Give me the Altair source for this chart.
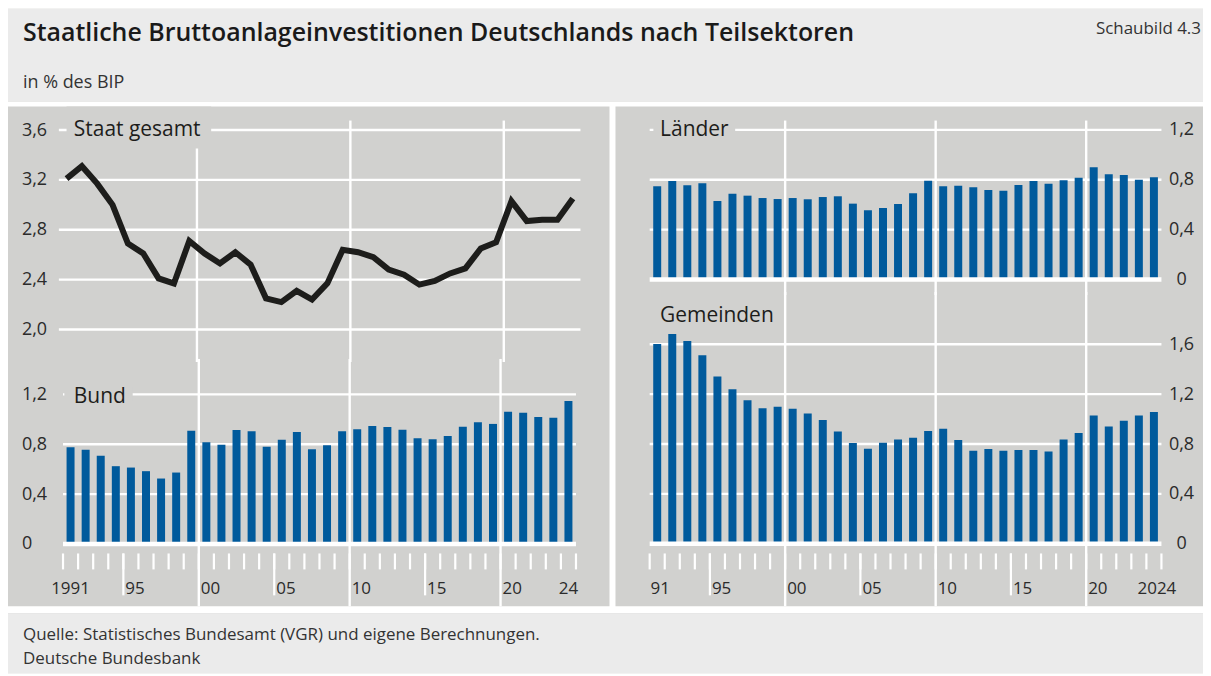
import altair as alt
import pandas as pd

# ---------------- data ----------------
years = list(range(1991, 2025))
staat = [3.21, 3.31, 3.17, 3.00, 2.69, 2.61, 2.41, 2.37, 2.71, 2.61,
         2.53, 2.62, 2.52, 2.25, 2.22, 2.31, 2.24, 2.37, 2.64, 2.62,
         2.58, 2.48, 2.44, 2.36, 2.39, 2.45, 2.49, 2.65, 2.70, 3.03,
         2.87, 2.88, 2.88, 3.05]
bund = [0.776, 0.755, 0.707, 0.624, 0.613, 0.584, 0.525, 0.573, 0.909, 0.816,
        0.795, 0.915, 0.904, 0.779, 0.837, 0.899, 0.760, 0.792, 0.904, 0.920,
        0.947, 0.939, 0.917, 0.848, 0.840, 0.867, 0.941, 0.976, 0.963, 1.061,
        1.053, 1.019, 1.013, 1.147]
laender = [0.747, 0.789, 0.755, 0.771, 0.629, 0.688, 0.672, 0.653, 0.645, 0.653,
           0.643, 0.661, 0.667, 0.608, 0.555, 0.573, 0.605, 0.691, 0.792, 0.747,
           0.752, 0.739, 0.717, 0.712, 0.757, 0.789, 0.768, 0.795, 0.816, 0.899,
           0.843, 0.837, 0.800, 0.819]
gemeinden = [1.603, 1.683, 1.627, 1.512, 1.341, 1.240, 1.152, 1.088, 1.099, 1.083,
             1.045, 0.992, 0.901, 0.808, 0.763, 0.811, 0.837, 0.851, 0.904, 0.923,
             0.832, 0.747, 0.760, 0.747, 0.752, 0.752, 0.741, 0.837, 0.888, 1.029,
             0.941, 0.987, 1.029, 1.056]

ticks_staat = [2.0, 2.4, 2.8, 3.2, 3.6]
ticks_bund = [0.0, 0.4, 0.8, 1.2]
ticks_laender = [0.0, 0.4, 0.8, 1.2]
ticks_gemeinden = [0.0, 0.4, 0.8, 1.2, 1.6]

decade_lines = [1999.5, 2009.5, 2019.5]
long_ticks = [1994.5, 2004.5, 2014.5]
boundaries = [y - 0.5 for y in years] + [years[-1] + 0.5]

end_labels_left = ["1991", "24"]
end_labels_right = ["91", "2024"]
end_label_years = [1991, 2024]
mid_labels = ["95", "00", "05", "10", "15", "20"]
mid_label_pos = [1994.5, 1999.5, 2004.5, 2009.5, 2014.5, 2019.5]

title_text = "Staatliche Bruttoanlageinvestitionen Deutschlands nach Teilsektoren"
number_text = "Schaubild 4.3"
unit_text = "in % des BIP"
source_text = "Quelle: Statistisches Bundesamt (VGR) und eigene Berechnungen."
org_text = "Deutsche Bundesbank"

df = pd.DataFrame({"year": years, "staat": staat, "bund": bund,
                   "laender": laender, "gemeinden": gemeinden})

# ---------------- style / layout ----------------
FONT = "Open Sans"
BLUE = "#005a9c"
PANEL = "#d1d1cf"
HEAD = "#ebebeb"
WHITE = "#ffffff"
INK = "#1d1d1b"
LABEL = "#2b2b2b"

X_START, X_END = years[0] - 0.5, years[-1] + 0.5
PPU = 125.0  # pixels per unit of % of GDP


def xdomain(v0, v1, px_first, ppy):
    return [X_START - (px_first - v0) / ppy, X_START + (v1 - px_first) / ppy]


def ydomain(v0, v1, px_ref, val_ref):
    return [val_ref - (v1 - px_ref) / PPU, val_ref + (px_ref - v0) / PPU]


LW, RW = 603, 589
xsL = alt.Scale(domain=xdomain(8, 611, 59.0, 15.38), nice=False, zero=False)
xsR = alt.Scale(domain=xdomain(617, 1206, 646.8, 15.35), nice=False, zero=False)

fmt = "datum.value == 0 ? '0' : replace(format(datum.value, '.1f'), '.', ',')"


def yaxis(vals, orient, offset, align):
    return alt.Axis(orient=orient, values=vals, labelExpr=fmt, offset=offset,
                    labelAlign=align, labelPadding=0, ticks=False, tickSize=0,
                    domain=False, grid=False, title=None, labelFont=FONT,
                    labelFontSize=18, labelColor=LABEL, labelFlush=False,
                    labelOverlap=False, minExtent=0, maxExtent=0)


def hgrid(vals, xs, ys, yax, sw=2.4):
    d = pd.DataFrame({"v": vals, "a": X_START, "b": X_END})
    return alt.Chart(d).mark_rule(color=WHITE, strokeWidth=sw).encode(
        x=alt.X("a:Q", scale=xs, axis=None), x2="b:Q",
        y=alt.Y("v:Q", scale=ys, axis=yax))


def vgrid(xs, top, bottom):
    d = pd.DataFrame({"g": decade_lines})
    return alt.Chart(d).mark_rule(color=WHITE, strokeWidth=2.4).encode(
        x=alt.X("g:Q", scale=xs, axis=None), y=alt.value(top), y2=alt.value(bottom))


def mask(x0, x1, y0, y1):
    d = pd.DataFrame({"m": [0]})
    return alt.Chart(d).mark_rect(color=PANEL).encode(
        x=alt.value(x0), x2=alt.value(x1), y=alt.value(y0), y2=alt.value(y1))


def label(text, x, y, size=21, align="left", color=INK, weight="normal"):
    d = pd.DataFrame({"t": [text]})
    return alt.Chart(d).mark_text(align=align, baseline="alphabetic", font=FONT,
                                  fontSize=size, color=color, fontWeight=weight).encode(
        text="t:N", x=alt.value(x), y=alt.value(y))


def bars(col, xs, ys, yax):
    return alt.Chart(df).mark_bar(color=BLUE, width=8).encode(
        x=alt.X("year:Q", scale=xs, axis=None),
        y=alt.Y(f"{col}:Q", scale=ys, axis=yax), y2=alt.datum(0))


def xticks(xs, t0, t1, t2):
    short = alt.Chart(pd.DataFrame({"b": boundaries})).mark_rule(
        color=WHITE, strokeWidth=2.2).encode(
        x=alt.X("b:Q", scale=xs, axis=None), y=alt.value(t0), y2=alt.value(t1))
    long = alt.Chart(pd.DataFrame({"b": long_ticks})).mark_rule(
        color=WHITE, strokeWidth=2.2).encode(
        x=alt.X("b:Q", scale=xs, axis=None), y=alt.value(t0), y2=alt.value(t2))
    return [short, long]


def xlabels(xs, end_labels, yb, end_dx=0):
    ends = alt.Chart(pd.DataFrame({"p": end_label_years, "l": end_labels})).mark_text(
        align="center", baseline="alphabetic", font=FONT, fontSize=17, color=LABEL,
        dx=end_dx).encode(x=alt.X("p:Q", scale=xs, axis=None), y=alt.value(yb), text="l:N")
    mids = alt.Chart(pd.DataFrame({"p": mid_label_pos, "l": mid_labels})).mark_text(
        align="left", baseline="alphabetic", font=FONT, fontSize=17, color=LABEL,
        dx=2).encode(x=alt.X("p:Q", scale=xs, axis=None), y=alt.value(yb), text="l:N")
    return [ends, mids]


# ---------------- left panel ----------------
H_LT, H_LB = 256, 245
ysLT = alt.Scale(domain=ydomain(106, 362, 129.5, 3.6), nice=False, zero=False)
axLT = yaxis(ticks_staat, "left", -13.5, "left")
line = alt.Chart(df).mark_line(color=INK, strokeWidth=6, strokeJoin="miter",
                               strokeCap="butt").encode(
    x=alt.X("year:Q", scale=xsL, axis=None),
    y=alt.Y("staat:Q", scale=ysLT, axis=axLT))
left_top = alt.layer(
    hgrid(ticks_staat, xsL, ysLT, axLT),
    vgrid(xsL, 14, H_LT + 3),
    mask(58.7, 203.7, 0, 42),
    label("Staat gesamt", 66, 29.5),
    line,
).properties(width=LW, height=H_LT)

ysLB = alt.Scale(domain=ydomain(362, 607, 544.5, 0.0), nice=False, zero=False)
axLB = yaxis(ticks_bund, "left", -13.5, "left")
left_bottom = alt.layer(
    hgrid(ticks_bund[1:], xsL, ysLB, axLB),
    vgrid(xsL, -3, H_LB),
    bars("bund", xsL, ysLB, axLB),
    hgrid([0.0], xsL, ysLB, axLB, sw=4.6),
    *xticks(xsL, 192, 208, 234),
    mask(56.5, 125, 25, 40),
    label("Bund", 66, 40.7),
    *xlabels(xsL, end_labels_left, 233),
).properties(width=LW, height=H_LB)

left = alt.vconcat(left_top, left_bottom, spacing=0, bounds="flush")

# ---------------- right panel ----------------
H_RT, H_RB = 189, 312
ysRT = alt.Scale(domain=ydomain(106, 295, 279.3, 0.0), nice=False, zero=False)
axRT = yaxis(ticks_laender, "right", -22, "center")
right_top = alt.layer(
    hgrid(ticks_laender[1:], xsR, ysRT, axRT),
    vgrid(xsR, 14, H_RT + 3),
    mask(38, 120, 15, 32),
    bars("laender", xsR, ysRT, axRT),
    hgrid([0.0], xsR, ysRT, axRT, sw=4.6),
    label("Länder", 44.7, 29.5),
).properties(width=RW, height=H_RT)

ysRB = alt.Scale(domain=ydomain(295, 607, 544.3, 0.0), nice=False, zero=False)
axRB = yaxis(ticks_gemeinden, "right", -22, "center")
right_bottom = alt.layer(
    hgrid(ticks_gemeinden[1:], xsR, ysRB, axRB),
    vgrid(xsR, -3, H_RB),
    bars("gemeinden", xsR, ysRB, axRB),
    hgrid([0.0], xsR, ysRB, axRB, sw=4.6),
    *xticks(xsR, 259, 275, 301),
    label("Gemeinden", 44.7, 27),
    *xlabels(xsR, end_labels_right, 300, end_dx=3),
).properties(width=RW, height=H_RB)

right = alt.vconcat(right_top, right_bottom, spacing=0, bounds="flush")

# ---------------- header / footer ----------------
FW = 1198


def backdrop(w, h):
    d = pd.DataFrame({"m": [0]})
    return alt.Chart(d).mark_rect(color=HEAD).encode(
        x=alt.value(0), x2=alt.value(w), y=alt.value(0), y2=alt.value(h))


header = alt.layer(
    backdrop(FW, 93),
    label(title_text, 15, 32, size=25, weight=600, color="#1a1a1a"),
    label(number_text, 1196, 25, size=17, align="right", color="#333333"),
    label(unit_text, 15, 79.5, size=18, color="#333333"),
).properties(width=FW, height=93)

footer = alt.layer(
    backdrop(FW, 60),
    label(source_text, 15, 27, size=17, color="#333333"),
    label(org_text, 15, 51, size=17, color="#333333"),
).properties(width=FW, height=60)

chart = alt.vconcat(
    header, alt.hconcat(left, right, spacing=6), footer, spacing=5
).properties(padding=0).configure(background=WHITE, font=FONT).configure_view(
    fill=PANEL, stroke=None)

chart.save("out.html", embed_options={"renderer": "svg", "actions": False})
